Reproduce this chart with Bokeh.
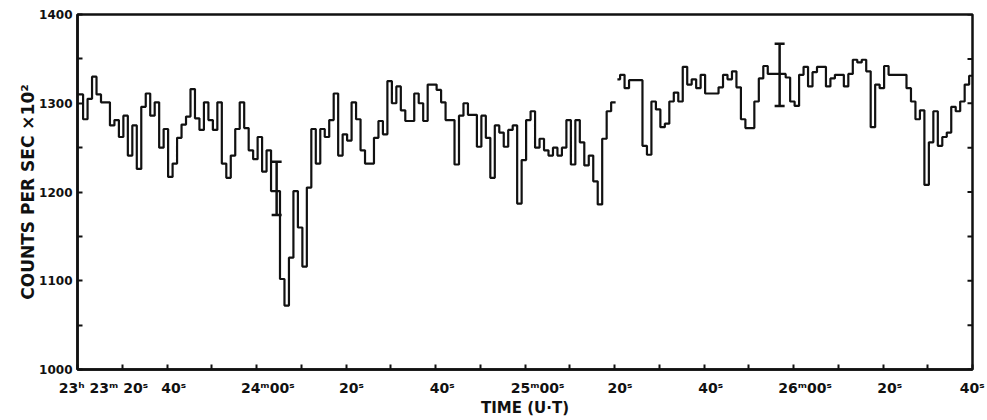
import math
from bokeh.plotting import figure
from bokeh.models import Range1d, FixedTicker, Whisker, TeeHead, ColumnDataSource
from bokeh.embed import file_html
from bokeh.resources import INLINE

# ---------------- data ----------------
# counts per second x 10^2, 1-second bins starting 23h23m20s UT
counts_a = [
    1310, 1282, 1305, 1330, 1310, 1301, 1301, 1275, 1281, 1262,
    1286, 1241, 1275, 1226, 1296, 1311, 1286, 1301, 1250, 1271,
    1217, 1232, 1261, 1276, 1285, 1316, 1283, 1270, 1301, 1281,
    1270, 1301, 1232, 1216, 1241, 1271, 1301, 1272, 1247, 1237,
    1262, 1223, 1247, 1201, 1201, 1102, 1072, 1126, 1201, 1160,
    1116, 1205, 1271, 1232, 1271, 1262, 1281, 1311, 1241, 1265,
    1258, 1301, 1282, 1247, 1232, 1232, 1261, 1280, 1265, 1325,
    1300, 1319, 1292, 1280, 1280, 1311, 1300, 1280, 1321, 1321,
    1315, 1301, 1281, 1281, 1231, 1286, 1300, 1287, 1287, 1251,
    1286, 1261, 1216, 1275, 1267, 1251, 1270, 1275, 1187, 1236,
    1281, 1291, 1250, 1260, 1247, 1241, 1250, 1241, 1250, 1281,
    1231, 1281, 1256, 1230, 1241, 1212, 1186, 1260, 1291, 1301,
]
counts_b = [
    1327, 1332, 1317, 1326, 1326, 1326, 1252, 1242, 1302, 1293,
    1273, 1277, 1302, 1312, 1302, 1341, 1321, 1327, 1317, 1332,
    1311, 1311, 1311, 1318, 1332, 1327, 1336, 1318, 1282, 1272,
    1272, 1302, 1328, 1342, 1333, 1333, 1333, 1333, 1329, 1302,
    1297, 1332, 1341, 1319, 1335, 1341, 1341, 1319, 1328, 1332,
    1332, 1319, 1333, 1349, 1346, 1349, 1336, 1273, 1321, 1317,
    1342, 1332, 1332, 1332, 1332, 1317, 1302, 1282, 1292, 1208,
    1256, 1291, 1252, 1262, 1267, 1296, 1291, 1302, 1321, 1331,
]
bin_width = 1.0          # s
bin_phase = 0.25         # s, phase of the bin edges
seg_b_start = 120.65     # s, second segment resumes after a short break

err_t = [44.5, 156.9]
err_lo = [1174, 1297]
err_hi = [1234, 1367]

x_tick_secs = [0, 20, 40, 60, 80, 100, 120, 140, 160, 180, 200]
x_minor_secs = [0, 10, 20, 30, 40, 50, 60, 70, 80, 90, 100,
                110, 120, 130, 140, 150, 160, 170, 180, 190, 200]
x_tick_labels = ["23ʰ 23ᵐ 20ˢ", "40ˢ", "24ᵐ00ˢ", "20ˢ", "40ˢ", "25ᵐ00ˢ",
                 "20ˢ", "40ˢ", "26ᵐ00ˢ", "20ˢ", "40ˢ"]
y_ticks = [1000, 1100, 1200, 1300, 1400]
y_minor = [1050, 1150, 1250, 1350]

# ---------------- styling ----------------
FONT = "DejaVu Sans"
INK = "#111111"
# horizontal nudge (s) of each time label's centre, as lettered on the original
label_nudge = [5.8, 1.5, 2.5, 1.2, 1.5, 2.8, 1.2, 1.5, 2.6, 1.5, -0.05]

p = figure(width=985, height=420, output_backend="svg", toolbar_location=None,
           x_range=Range1d(0, 200), y_range=Range1d(1000, 1400),
           min_border_left=77, min_border_right=13, min_border_top=14, min_border_bottom=51)
p.grid.visible = False
p.background_fill_color = "white"
p.border_fill_color = "white"
p.outline_line_color = INK
p.outline_line_width = 2.5

# step traces
n_a = len(counts_a)
edges_a = [0.0] + [k * bin_width + bin_phase for k in range(1, n_a + 1)]
p.step(x=edges_a, y=counts_a + [counts_a[-1]], mode="after", line_width=2.2, line_color=INK)

n_b = len(counts_b)
edges_b = [seg_b_start] + [(n_a + k) * bin_width + bin_phase for k in range(1, n_b + 1)]
p.step(x=edges_b, y=counts_b + [counts_b[-1]], mode="after", line_width=2.2, line_color=INK)

# error bars
err_src = ColumnDataSource(dict(t=err_t, lo=err_lo, hi=err_hi))
w = Whisker(source=err_src, base="t", lower="lo", upper="hi", dimension="height",
            line_width=2.5, line_color=INK,
            upper_head=TeeHead(size=10, line_width=2.5, line_color=INK),
            lower_head=TeeHead(size=10, line_width=2.5, line_color=INK))
p.add_layout(w)

# bottom axis: tick marks every 10 s (minor ticks), labels placed as lettered
anchors = [t + d for t, d in zip(x_tick_secs, label_nudge)]
xa = p.xaxis[0]
xa.ticker = FixedTicker(ticks=anchors, minor_ticks=x_minor_secs)
xa.major_label_overrides = {a: lab for a, lab in zip(anchors, x_tick_labels)}
xa.major_tick_line_color = None
xa.major_tick_in = 0
xa.major_tick_out = 0
xa.minor_tick_in = 5
xa.minor_tick_out = 0
xa.minor_tick_line_width = 2
xa.minor_tick_line_color = INK
xa.axis_line_width = 2.5
xa.axis_line_color = INK
xa.major_label_text_font = FONT
xa.major_label_text_font_style = "bold"
xa.major_label_text_font_size = "14px"
xa.major_label_text_color = INK
xa.major_label_standoff = 10
xa.axis_label = "TIME (U·T)"
xa.axis_label_text_font = FONT
xa.axis_label_text_font_style = "bold"
xa.axis_label_text_font_size = "15px"
xa.axis_label_text_color = INK
xa.axis_label_standoff = 0

# left axis
ya = p.yaxis[0]
ya.ticker = FixedTicker(ticks=y_ticks, minor_ticks=y_minor)
ya.major_tick_in = 5
ya.major_tick_out = 0
ya.minor_tick_in = 5
ya.minor_tick_out = 0
ya.axis_line_width = 2.5
ya.axis_line_color = INK
ya.major_tick_line_width = 2
ya.minor_tick_line_width = 2
ya.major_tick_line_color = INK
ya.minor_tick_line_color = INK
ya.major_label_text_font = FONT
ya.major_label_text_font_style = "bold"
ya.major_label_text_font_size = "12px"
ya.major_label_text_color = INK
ya.major_label_standoff = 5
ya.axis_label = "COUNTS PER SEC ×10²"
ya.axis_label_text_font = FONT
ya.axis_label_text_font_style = "bold"
ya.axis_label_text_font_size = "17px"
ya.axis_label_text_color = INK
ya.axis_label_standoff = -2

# right-hand frame ticks (same values as the left axis), pointing inward 5 px
right_vals = y_ticks + y_minor
p.ray(x=[200] * len(right_vals), y=right_vals, length=5, length_units="screen",
      angle=math.pi, line_width=2, line_color=INK)

open("out.html", "w").write(file_html(p, INLINE))
